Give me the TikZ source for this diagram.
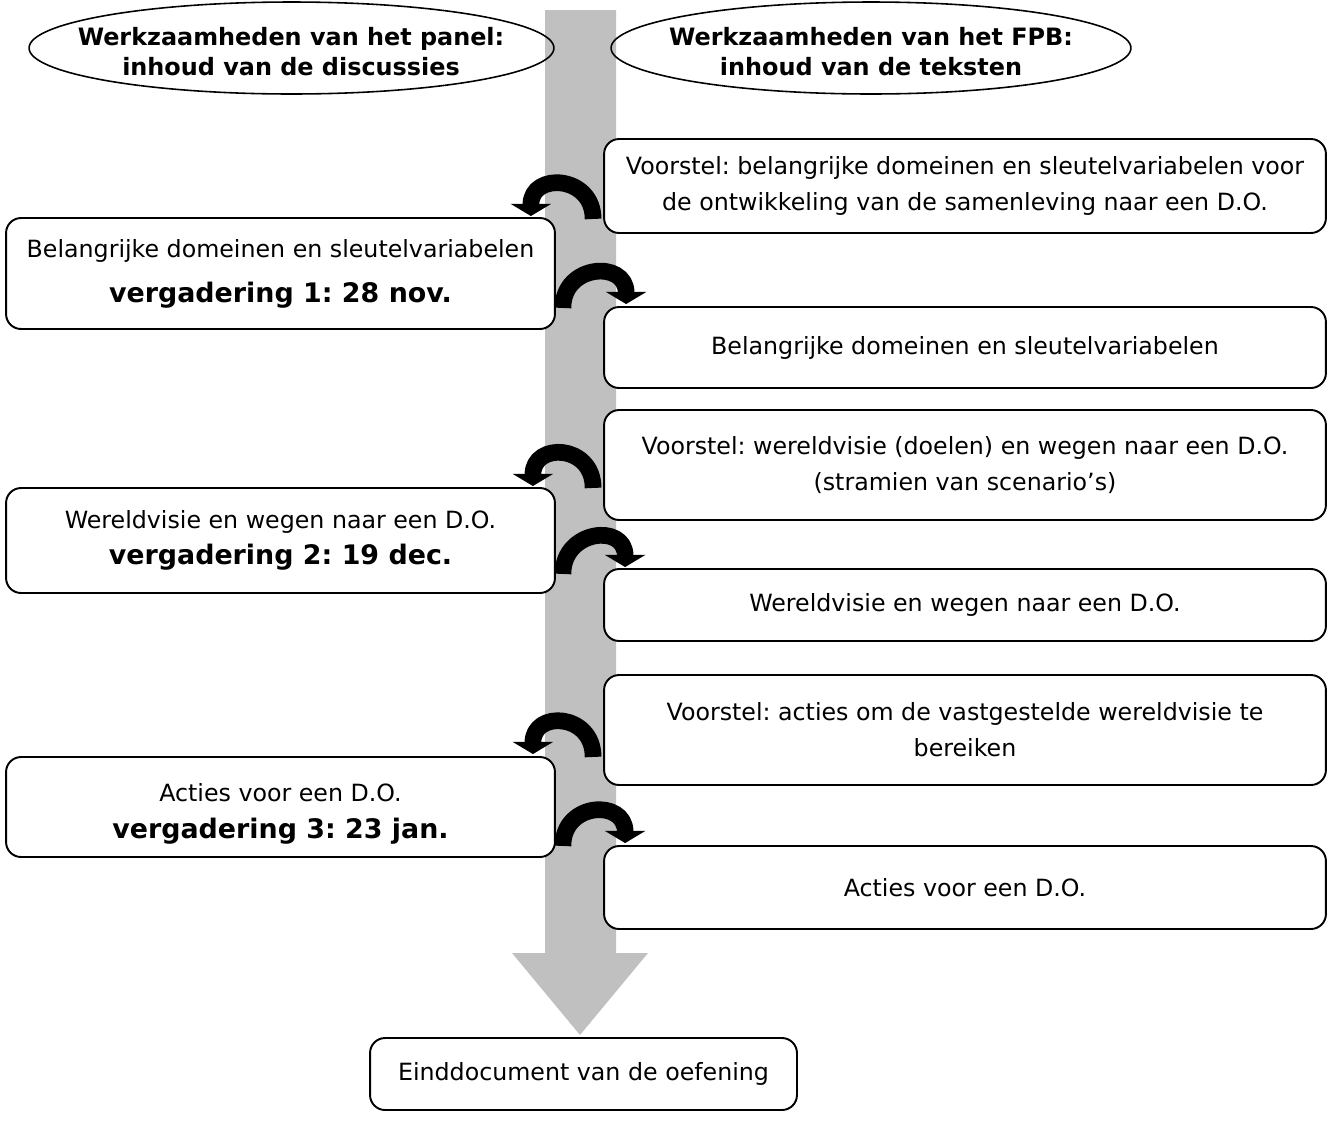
\documentclass[tikz,border=0pt]{standalone}
\usepackage{fontspec}
\setmainfont{DejaVu Sans}
\frenchspacing
\usetikzlibrary{arrows.meta,calc}
\definecolor{barcol}{RGB}{192,192,192}

\begin{document}
\begin{tikzpicture}[x=0.02cm, y=-0.02cm, line join=round,
  headtext/.style={inner sep=0pt, align=center, font=\fontsize{13.6}{17}\selectfont\bfseries},
  headoval/.style={line width=0.9pt, x radius=5.25cm, y radius=0.92cm},
  fpbbox/.style={draw, fill=white, rounded corners=0.3cm, line width=1.1pt, inner sep=0pt,
    align=center, minimum width=14.44cm, font=\fontsize{13.5}{20.5}\selectfont},
  panelbox/.style={fpbbox, minimum width=10.98cm},
  swoop/.style={line width=9.5pt, -{Triangle[width=23pt,length=7pt]}}]

\useasboundingbox (0,0) rectangle (1332,1120);

% time axis
\fill[barcol] (545,10) -- (616,10) -- (616,953) -- (648,953) -- (580,1035) -- (512,953) -- (545,953) -- cycle;

\node[headtext] (panelhead) at (291,52) {Werkzaamheden van het panel:\\inhoud van de discussies};
\node[headtext] (fpbhead) at (871,52) {Werkzaamheden van het FPB:\\inhoud van de teksten};
\draw[headoval] (291.5,48) ellipse [];
\draw[headoval, x radius=5.2cm] (871,48) ellipse [];

% FPB side
\node[fpbbox, minimum height=1.88cm] (prop1) at (965,186) {Voorstel: belangrijke domeinen en sleutelvariabelen voor\\de ontwikkeling van de samenleving naar een D.O.};
\node[fpbbox, minimum height=1.62cm] (text1) at (965,347.5) {Belangrijke domeinen en sleutelvariabelen};
\node[fpbbox, minimum height=2.2cm] (prop2) at (965,465) {Voorstel: wereldvisie (doelen) en wegen naar een D.O.\\(stramien van scenario’s)};
\node[fpbbox, minimum height=1.44cm] (text2) at (965,605) {Wereldvisie en wegen naar een D.O.};
\node[fpbbox, minimum height=2.2cm] (prop3) at (965,730) {Voorstel: acties om de vastgestelde wereldvisie te\\bereiken};
\node[fpbbox, minimum height=1.66cm] (text3) at (965,887.5) {Acties voor een D.O.};

% panel side
\node[panelbox, minimum height=2.22cm] (disc1) at (280.5,273.5) {Belangrijke domeinen en sleutelvariabelen\\[5pt]{\fontsize{15.3}{18}\selectfont\bfseries vergadering 1: 28 nov.}};
\node[panelbox, minimum height=2.1cm] (disc2) at (280.5,540.5) {Wereldvisie en wegen naar een D.O.\\{\fontsize{15.3}{18}\selectfont\bfseries vergadering 2: 19 dec.}};
\node[panelbox, minimum height=2cm] (disc3) at (280.5,807) {};
\begin{scope}
  \clip (disc3.north west) rectangle ($(disc3.south east)+(0,-14)$);
  \node[align=center, font=\fontsize{13.5}{21}\selectfont] (disc3txt) at ($(disc3)+(0,7)$) {Acties voor een D.O.\\{\fontsize{15.3}{18}\selectfont\bfseries vergadering 3: 23 jan.}};
\end{scope}

\node[fpbbox, minimum width=8.54cm, minimum height=1.44cm] (final) at (583.5,1074) {Einddocument van de oefening};

% hand-overs
\draw[swoop] ($(prop1.south west)+(-10,-15)$) .. controls +(0,-44) and +(0,-44) .. ($(disc1.north east)+(-25,-1)$);
\draw[swoop] ($(disc1.south east)+(7,-22)$) .. controls +(0,-44) and +(0,-44) .. ($(text1.north west)+(23,-2)$);
\draw[swoop] ($(prop2.south west)+(-10,-33)$) .. controls +(0,-44) and +(0,-44) .. ($(disc2.north east)+(-23,-1)$);
\draw[swoop] ($(disc2.south east)+(7,-20)$) .. controls +(0,-44) and +(0,-44) .. ($(text2.north west)+(22,-1)$);
\draw[swoop] ($(prop3.south west)+(-10,-29)$) .. controls +(0,-44) and +(0,-44) .. ($(disc3.north east)+(-23,-2)$);
\draw[swoop] ($(disc3.south east)+(7,-12)$) .. controls +(0,-44) and +(0,-44) .. ($(text3.north west)+(22,-2)$);

\end{tikzpicture}
\end{document}
